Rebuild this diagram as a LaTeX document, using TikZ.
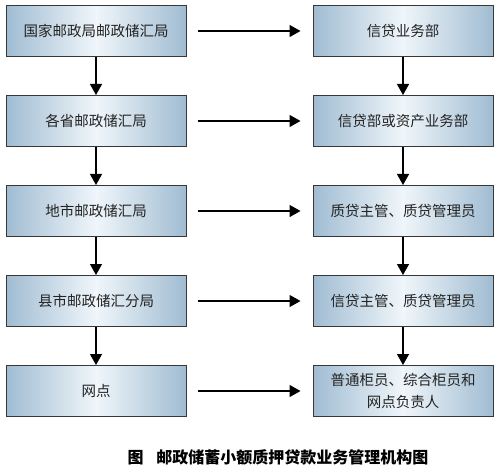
\documentclass[tikz,border=0pt]{standalone}
\usepackage{fontspec}
\newfontfamily\cjk{Noto Sans CJK SC}
\usetikzlibrary{positioning,arrows.meta}
\definecolor{boxedge}{RGB}{160,188,210}
\definecolor{boxmid}{RGB}{240,246,250}
\definecolor{boxline}{RGB}{55,55,55}
\definecolor{ink}{RGB}{35,35,35}
\begin{document}
\begin{tikzpicture}[
            x=1pt, y=-1pt,
            node distance=38pt and 126pt,
            box/.style={rectangle, draw=boxline, line width=1pt, minimum width=180pt, minimum height=51pt, inner sep=0pt, left color=boxedge, right color=boxedge, middle color=boxmid, text=ink, font=\cjk\fontsize{14.5}{22}\selectfont, align=center},
            down/.style={-{Triangle[length=11pt,width=12pt]}, line width=1.3pt},
            across/.style={down, shorten <=11pt, shorten >=12pt}
            ]
            \useasboundingbox (0,0) rectangle (500,470);
            % left column
            \node[box] (gj) at (96,31) {国家邮政局邮政储汇局};
            \node[box, below=of gj] (sj) {各省邮政储汇局};
            \node[box, below=of sj] (dj) {地市邮政储汇局};
            \node[box, below=of dj] (xj) {县市邮政储汇分局};
            \node[box, below=of xj] (wd) {网点};
            % right column
            \node[box, right=of gj] (xdb) {信贷业务部};
            \node[box, right=of sj] (zcb) {信贷部或资产业务部};
            \node[box, right=of dj] (zgd) {质贷主管、质贷管理员};
            \node[box, right=of xj] (zgx) {信贷主管、质贷管理员};
            \node[box, right=of wd] (gy) {普通柜员、综合柜员和\\网点负责人};
            % arrows
            \foreach \a/\b in {gj/sj, sj/dj, dj/xj, xj/wd, xdb/zcb, zcb/zgd, zgd/zgx, zgx/gy}
              \draw[down] (\a) -- (\b);
            \foreach \a/\b in {gj/xdb, sj/zcb, dj/zgd, xj/zgx, wd/gy}
              \draw[across] (\a) -- (\b);
            \node[font=\cjk\bfseries\fontsize{16}{20}\selectfont] (title) at (278,457) {图\hspace{0.8em}邮政储蓄小额质押贷款业务管理机构图};
        \end{tikzpicture}
\end{document}
